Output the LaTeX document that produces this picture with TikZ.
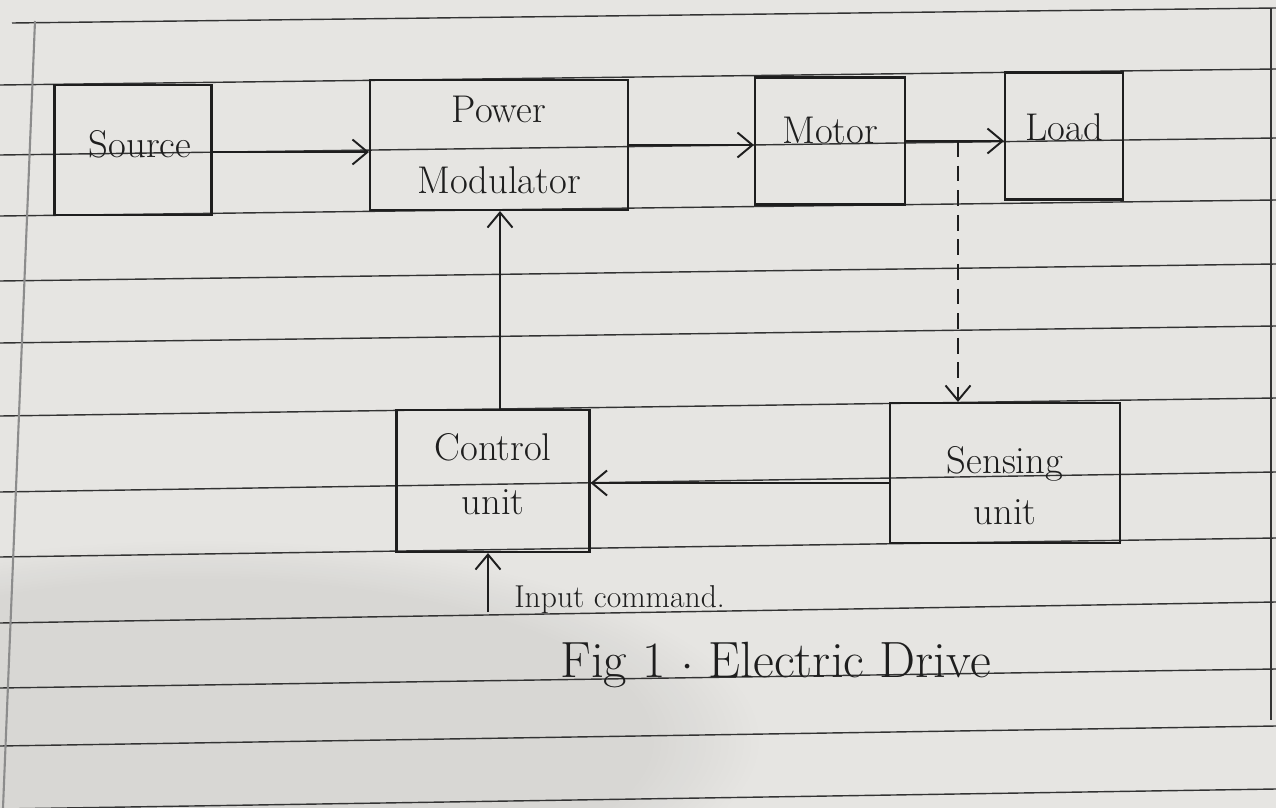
\documentclass[tikz,border=0pt]{standalone}
\usetikzlibrary{arrows.meta,calc,fadings}
\definecolor{paper}{HTML}{E6E5E2}
\definecolor{rule}{HTML}{333333}
\definecolor{margin}{HTML}{8C8C8C}
\definecolor{ink}{HTML}{1E1E1E}
\begin{document}
\begin{tikzpicture}[x=0.02cm,y=-0.02cm,
  ruled/.style={draw=rule,line width=0.8pt},
  blockbox/.style={draw=ink,line width=1.2pt,rectangle,inner sep=0pt},
  hand/.style={text=ink,font=\fontsize{22}{26}\selectfont,align=center,inner sep=0pt},
  flow/.style={draw=ink,line width=1.1pt,-{Straight Barb[length=3mm,width=5mm,line width=1.1pt]}},
  tapline/.style={flow,dash pattern=on 9pt off 5pt}]
% sheet of ruled paper
\fill[paper] (0,0) rectangle (1276,808);
\useasboundingbox (0,0) rectangle (1276,808);
\begin{scope}
\clip (0,0) rectangle (1276,808);
% soft shadow over the lower left of the sheet
\fill[black,opacity=0.06,path fading=circle with fuzzy edge 20 percent] (200,740) ellipse [x radius=560, y radius=200];
\draw[ruled] (12,23) -- (1276,8);
\foreach \yl/\yr in {85/69,155/138,216/200,281/264,343/326,416/398,492/472,557/538,623/602,688/669,746/726,809/789}
  \draw[ruled] (0,\yl) -- (1276,\yr);
\draw[margin,line width=1.2pt] (35,21) -- (3,808);
\draw[rule,line width=1.4pt] (1271,8) -- (1271,720);
\end{scope}

% forward path
\node[blockbox,minimum width=3.14cm,minimum height=2.6cm]  (src)  at (133,150) {};
\node[blockbox,minimum width=5.16cm,minimum height=2.6cm]  (pm)   at (499,145) {};
\node[blockbox,minimum width=3.0cm,minimum height=2.54cm]  (mot)  at (830,141) {};
\node[blockbox,minimum width=2.36cm,minimum height=2.54cm] (load) at (1064,136) {};
% feedback path
\node[blockbox,minimum width=3.86cm,minimum height=2.84cm] (ctrl) at (493,481) {};
\node[blockbox,minimum width=4.6cm,minimum height=2.8cm]   (sens) at (1005,473) {};

% block texts
\node[hand] (srcT)  at ([xshift=4pt,yshift=3pt]src.center) {Source};
\node[hand] (pmT)   at (pm.center) {Power\\[14pt]Modulator};
\node[hand] (motT)  at ([yshift=6pt]mot.center) {Motor};
\node[hand] (loadT) at ([yshift=5pt]load.center) {Load};
\node[hand] (ctrlT) at ([yshift=4pt]ctrl.center) {Control\\[5pt]unit};
\node[hand] (sensT) at ([yshift=-7pt]sens.center) {Sensing\\[3pt]unit};

% connectors
\draw[flow] (src.east |- 0,152) -- (pm.west |- 0,152);
\draw[flow] (pm.east) -- (pm.east -| mot.west);
\draw[flow] (mot.east) -- (mot.east -| load.west);
\coordinate (tap) at (958,141);
\draw[tapline] (tap) -- (tap |- sens.north);
\draw[flow] (sens.west |- 0,483) -- (ctrl.east |- 0,483);
\draw[flow] (ctrl.north -| 500,0) -- (pm.south -| 500,0);
\coordinate (cmd) at (488,612);
\draw[flow] (cmd) -- (cmd |- ctrl.south);

% annotations
\node[hand,font=\fontsize{18}{22}\selectfont,anchor=west] (cmdT) at (514,600) {Input command.};
\node[hand,font=\fontsize{29}{33}\selectfont,anchor=west] (cap) at (560,665) {Fig 1 $\cdot$ Electric Drive};
\end{tikzpicture}
\end{document}
